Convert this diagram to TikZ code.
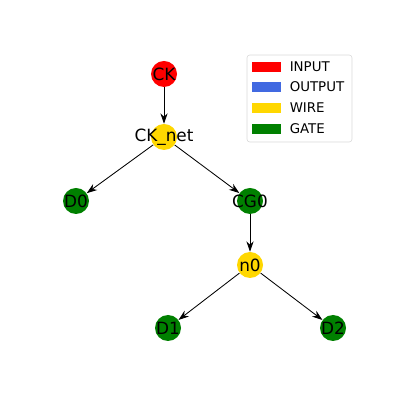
\documentclass[tikz,border=0pt]{standalone}
\usepackage{fontspec}
\setmainfont{DejaVu Sans}
\usepackage{tikz}
\usetikzlibrary{arrows.meta,backgrounds}
\definecolor{inputcol}{HTML}{FF0000}
\definecolor{outputcol}{HTML}{4169E1}
\definecolor{wirecol}{HTML}{FFD700}
\definecolor{gatecol}{HTML}{008000}
\tikzstyle{net edge}=[-{Stealth[length=2.6mm,width=1.8mm]},semithick]
\tikzstyle{net dot}=[circle,minimum size=0.65cm,inner sep=0pt]
\tikzstyle{legend patch}=[minimum width=0.72cm,minimum height=0.25cm,inner sep=0pt]
\newcommand{\netnode}[4][]{
  \node [net dot, fill=#2, label={[font=\fontsize{12}{14}\selectfont]center:#4}, #1] (#3) {}
}
\newcommand{\legendrow}[3]{
  \node [legend patch, fill=#1] (#2p) at (6.67,#3) {};
  \node [anchor=west, font=\fontsize{9.5}{11}\selectfont] (#2t) at (7.12,#3) {#2};
}

\begin{document}
\begin{tikzpicture}
        \useasboundingbox (0,0) rectangle (10,10);
        \netnode[at={(4.1,8.15)}]{inputcol}{ck}{CK};
        \netnode[at={(4.1,6.575)}]{wirecol}{cknet}{CK\_net};
        \netnode[at={(1.9,4.975)}]{gatecol}{d0}{D0};
        \netnode[at={(6.25,4.975)}]{gatecol}{cg0}{CG0};
        \netnode[at={(6.25,3.375)}]{wirecol}{n0}{n0};
        \netnode[at={(4.2,1.8)}]{gatecol}{d1}{D1};
        \netnode[at={(8.325,1.8)}]{gatecol}{d2}{D2};
  \begin{scope}[on background layer]
      \draw[net edge] (ck) -- (cknet);
            \draw[net edge] (cknet) -- (d0);
                  \draw[net edge] (cknet) -- (cg0);
                        \draw[net edge] (cg0) -- (n0);
                              \draw[net edge] (n0) -- (d1);
                                    \draw[net edge] (n0) -- (d2);
  \end{scope}

% legend
\draw[rounded corners=2pt, draw=black!15, fill=white] (6.175,8.625) rectangle (8.8,6.45);
\legendrow{inputcol}{INPUT}{8.325}
\legendrow{outputcol}{OUTPUT}{7.825}
\legendrow{wirecol}{WIRE}{7.3}
\legendrow{gatecol}{GATE}{6.775}

      \end{tikzpicture}
\end{document}
